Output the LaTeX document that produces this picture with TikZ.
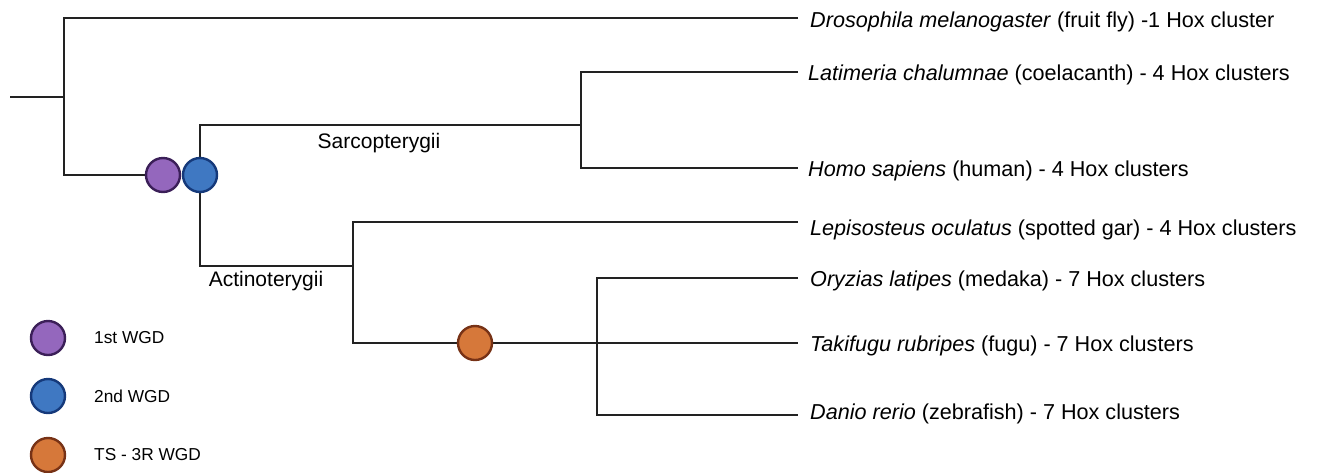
\documentclass[tikz,border=0pt]{standalone}
\usepackage{fontspec}
\setmainfont{Liberation Sans}
\definecolor{linec}{HTML}{222222}
\definecolor{purpfill}{HTML}{9467BD}
\definecolor{purpedge}{HTML}{3B1F58}
\definecolor{bluefill}{HTML}{3F78C2}
\definecolor{blueedge}{HTML}{15397A}
\definecolor{orfill}{HTML}{D6783A}
\definecolor{oredge}{HTML}{773216}
\begin{document}
\begin{tikzpicture}[x=1pt,y=-1pt,
  branch/.style={draw=linec, line width=2.9pt},
  wgd/.style={circle, minimum size=34pt, inner sep=0pt, line width=2.4pt},
  first/.style={wgd, fill=purpfill, draw=purpedge},
  second/.style={wgd, fill=bluefill, draw=blueedge},
  third/.style={wgd, fill=orfill, draw=oredge},
  leaf/.style={anchor=base west, inner sep=0pt, font=\fontsize{21.6}{24}\selectfont},
  clade/.style={inner sep=0pt, font=\fontsize{21}{24}\selectfont},
  key/.style={anchor=west, inner sep=0pt, font=\fontsize{17.3}{20}\selectfont}]
\useasboundingbox (0,0) rectangle (1324,472);

% internal nodes of the tree
\coordinate (root) at (10,97);
\coordinate (n0)   at (64,97);
\coordinate (d1)   at (163,175);
\coordinate (d2)   at (200,175);
\coordinate (sar)  at (581,125);
\coordinate (act)  at (353,266);
\coordinate (d3)   at (475,343);
\coordinate (tel)  at (597,343);

% branch tips
\coordinate (tDm) at (798,18);
\coordinate (tLc) at (798,72);
\coordinate (tHs) at (798,168);
\coordinate (tLo) at (798,222);
\coordinate (tOl) at (798,278);
\coordinate (tTr) at (798,343);
\coordinate (tDr) at (798,415);

% branches
\draw[branch] (root) -- (n0);
\draw[branch] (tDm) -| (n0 |- d1) -- (d1);
\draw[branch] (tLc) -| (sar) |- (tHs);
\draw[branch] (sar) -| (d2) |- (act);
\draw[branch] (tLo) -| (act) |- (tel);
\draw[branch] (tOl) -| (tel) |- (tDr);
\draw[branch] (tel) -- (tTr);

% duplication events
\node[first]  (w1) at (d1) {};
\node[second] (w2) at (d2) {};
\node[third]  (w3) at (d3) {};

% clade names
\node[clade] (lsar) at (379,143) {Sarcopterygii};
\node[clade] (lact) at (266,281) {Actinoterygii};

% species
\node[leaf] (sDm) at (810,27.5) {\textit{Drosophila melanogaster} (fruit fly) -1 Hox cluster};
\node[leaf] (sLc) at (808,80)   {\textit{Latimeria chalumnae} (coelacanth) - 4 Hox clusters};
\node[leaf] (sHs) at (808,176)  {\textit{Homo sapiens} (human) - 4 Hox clusters};
\node[leaf] (sLo) at (810,235)  {\textit{Lepisosteus oculatus} (spotted gar) - 4 Hox clusters};
\node[leaf] (sOl) at (810,286)  {\textit{Oryzias latipes} (medaka) - 7 Hox clusters};
\node[leaf] (sTr) at (810,351.5){\textit{Takifugu rubripes} (fugu) - 7 Hox clusters};
\node[leaf] (sDr) at (810,419)  {\textit{Danio rerio} (zebrafish) - 7 Hox clusters};

% legend
\node[first]  (k1) at (48,338) {};
\node[second] (k2) at (48,396) {};
\node[third]  (k3) at (48,455) {};
\node[key] (t1) at (94,338) {1st WGD};
\node[key] (t2) at (94,396) {2nd WGD};
\node[key] (t3) at (94,455) {TS - 3R WGD};
\end{tikzpicture}
\end{document}
